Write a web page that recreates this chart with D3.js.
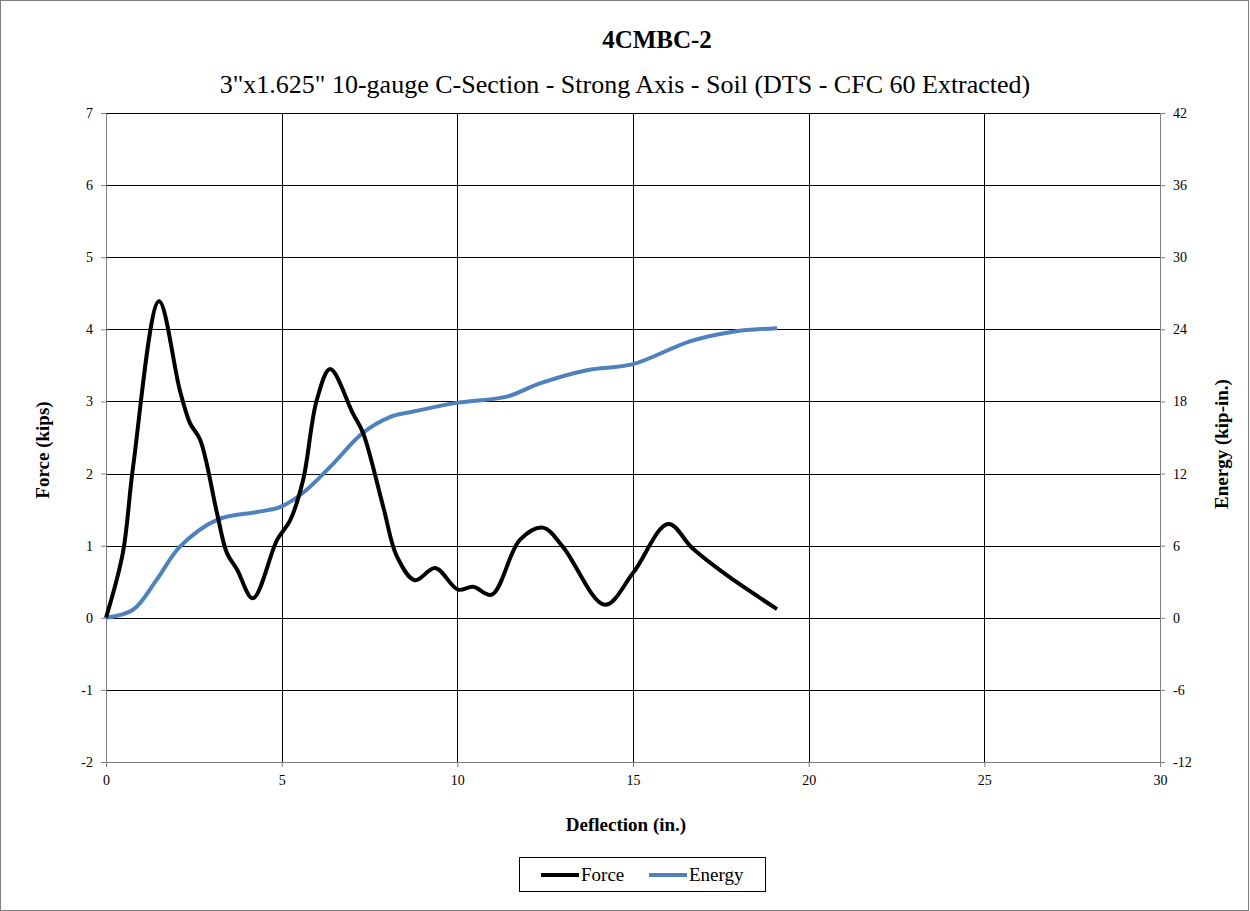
<!DOCTYPE html>
<html lang="en">
<head>
<meta charset="utf-8">
<title>4CMBC-2</title>
<script src="https://d3js.org/d3.v7.min.js"></script>
<style type="text/css">
  body { margin: 0; background: #fff; }
  text { font-family: "Liberation Serif", "Times New Roman", serif; fill: #000; }
  .grid line { stroke: #000; stroke-width: 1px; }
  .forceline { fill: none; stroke: #000; stroke-width: 4px; }
  .energyline { fill: none; stroke: #4f81bd; stroke-width: 4px; }
</style>
</head>
<body>
<script type="text/javascript">

var w = 1250;
var h = 911;
var margin = {top: 113, right: 90, bottom: 149, left: 106};
var innerWidth = w - margin.left - margin.right;
var innerHeight = h - margin.top - margin.bottom;

// force (kips) vs deflection (in.)
var forceX = [0, 0.48, 0.77, 1.51, 2.1, 2.39, 2.68, 3.16, 3.44, 3.73, 4.18, 4.87, 5.24, 5.61, 6.0, 6.38,
              7.03, 7.32, 7.89, 8.28, 8.79, 9.37, 10.02, 10.45, 10.98, 11.78, 12.44, 13.01, 14.2, 15.0,
              16.0, 16.7, 17.67, 19.1];
var forceY = [0, 0.9, 2.09, 4.39, 3.16, 2.7, 2.47, 1.45, 0.9, 0.67, 0.27, 1.08, 1.35, 1.91, 3.02, 3.45,
              2.83, 2.56, 1.54, 0.85, 0.52, 0.69, 0.39, 0.43, 0.32, 1.08, 1.25, 0.98, 0.18, 0.62,
              1.3, 0.96, 0.59, 0.12];

// energy (kip-in.) vs deflection (in.)
var energyX = [0, 0.77, 1.45, 2.1, 3.16, 4.3, 4.95, 5.61, 6.38, 7.32, 8.08, 8.65, 10.02, 11.41, 12.35,
               13.69, 15.0, 16.62, 17.85, 19.1];
var energyY = [0, 0.67, 3.2, 5.9, 8.15, 8.8, 9.2, 10.4, 12.55, 15.4, 16.7, 17.1, 17.9, 18.4, 19.5,
               20.6, 21.1, 23.0, 23.8, 24.1];

var xTicks = [0, 5, 10, 15, 20, 25, 30];
var yTicks = [-2, -1, 0, 1, 2, 3, 4, 5, 6, 7];
var y2Ticks = [-12, -6, 0, 6, 12, 18, 24, 30, 36, 42];

var svg = d3.select("body").append("svg")
            .attr("width", w)
            .attr("height", h);

svg.append("rect")
   .attr("x", 0.5).attr("y", 0.5)
   .attr("width", w - 2).attr("height", h - 1)
   .attr("fill", "#fff").attr("stroke", "#7f7f7f");

var xScale = d3.scaleLinear().domain([0, 30]).range([0, innerWidth]);
var yScale = d3.scaleLinear().domain([-2, 7]).range([innerHeight, 0]);
var y2Scale = d3.scaleLinear().domain([-12, 42]).range([innerHeight, 0]);

var g = svg.append("g")
           .attr("transform", `translate(${margin.left}, ${margin.top})`);

// gridlines
g.append("g").attr("class", "grid")
 .selectAll("line").data(yTicks).enter().append("line")
 .attr("x1", 0).attr("x2", innerWidth)
 .attr("y1", d => Math.round(yScale(d)) + 0.5)
 .attr("y2", d => Math.round(yScale(d)) + 0.5)
 .attr("stroke", d => d == -2 ? "#7f7f7f" : "#000");

g.append("g").attr("class", "grid")
 .selectAll("line").data(xTicks).enter().append("line")
 .attr("y1", 0).attr("y2", innerHeight)
 .attr("x1", d => Math.round(xScale(d)) + 0.5)
 .attr("x2", d => Math.round(xScale(d)) + 0.5);

// axes (plain hyphen for negatives, like the original)
function styleAxis(sel) {
  sel.attr("font-family", null).attr("font-size", null);
  sel.select(".domain").attr("stroke", "#7f7f7f");
  sel.selectAll(".tick line").attr("stroke", "#7f7f7f");
  sel.selectAll(".tick text")
     .style("font-family", "'Liberation Serif', 'Times New Roman', serif")
     .style("font-size", "14px");
}

var fmt = d => String(d);

g.append("g")
 .attr("transform", `translate(0, ${innerHeight})`)
 .call(d3.axisBottom(xScale).tickValues(xTicks).tickFormat(fmt).tickSize(5).tickSizeOuter(0).tickPadding(8))
 .call(styleAxis);

g.append("g")
 .call(d3.axisLeft(yScale).tickValues(yTicks).tickFormat(fmt).tickSize(5).tickSizeOuter(0).tickPadding(8))
 .call(styleAxis);

g.append("g")
 .attr("transform", `translate(${innerWidth}, 0)`)
 .call(d3.axisRight(y2Scale).tickValues(y2Ticks).tickFormat(fmt).tickSize(5).tickSizeOuter(0).tickPadding(8))
 .call(styleAxis);

// lines
var forceLine = d3.line()
                  .x(d => xScale(d[0]))
                  .y(d => yScale(d[1]))
                  .curve(d3.curveCatmullRom.alpha(0.5));

var energyLine = d3.line()
                   .x(d => xScale(d[0]))
                   .y(d => y2Scale(d[1]))
                   .curve(d3.curveCatmullRom.alpha(0.5));

g.append("path")
 .datum(d3.zip(energyX, energyY))
 .attr("class", "energyline")
 .attr("d", energyLine);

g.append("path")
 .datum(d3.zip(forceX, forceY))
 .attr("class", "forceline")
 .attr("d", forceLine);

// titles
svg.append("text")
   .attr("x", 657).attr("y", 48)
   .attr("text-anchor", "middle")
   .style("font-size", "25px").style("font-weight", "bold")
   .text("4CMBC-2");

svg.append("text")
   .attr("x", 625).attr("y", 93)
   .attr("text-anchor", "middle")
   .style("font-size", "26px")
   .text("3\"x1.625\" 10-gauge C-Section - Strong Axis - Soil (DTS - CFC 60 Extracted)");

svg.append("text")
   .attr("x", 626).attr("y", 831)
   .attr("text-anchor", "middle")
   .style("font-size", "19px").style("font-weight", "bold")
   .text("Deflection (in.)");

svg.append("text")
   .attr("transform", "translate(49, 450) rotate(-90)")
   .attr("text-anchor", "middle")
   .style("font-size", "19px").style("font-weight", "bold")
   .text("Force (kips)");

svg.append("text")
   .attr("transform", "translate(1228, 444) rotate(-90)")
   .attr("text-anchor", "middle")
   .style("font-size", "19px").style("font-weight", "bold")
   .text("Energy (kip-in.)");

// legend
var legend = svg.append("g").attr("transform", "translate(519, 857)");
legend.append("rect")
      .attr("x", 0.5).attr("y", 0.5)
      .attr("width", 246).attr("height", 34)
      .attr("fill", "#fff").attr("stroke", "#000");

var legendItems = [["Force", "#000", 22], ["Energy", "#4f81bd", 130]];
legendItems.forEach(function(item) {
  legend.append("line")
        .attr("x1", item[2]).attr("x2", item[2] + 38)
        .attr("y1", 18).attr("y2", 18)
        .attr("stroke", item[1]).attr("stroke-width", 4);
  legend.append("text")
        .attr("x", item[2] + 40).attr("y", 24)
        .style("font-size", "19px")
        .text(item[0]);
});

</script>
</body>
</html>
